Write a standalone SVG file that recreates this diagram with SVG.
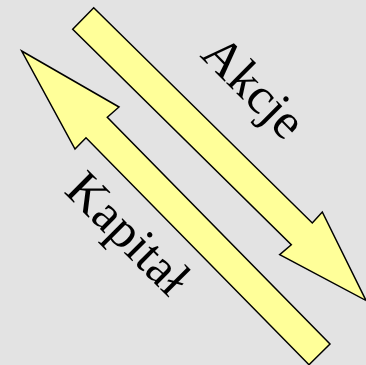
<svg xmlns="http://www.w3.org/2000/svg" width="366" height="365" viewBox="0 0 366 365">
<style>
.arrow{fill:#ffff99;stroke:#000;stroke-width:1.5;stroke-linejoin:miter}
.lbl{font-family:"Liberation Serif","Times New Roman",serif;font-size:51px;fill:#000}
</style>
<rect width="366" height="365" fill="#e3e3e3"/>
<g id="connectors">
<g id="akcje-arrow">
<polygon class="arrow" points="93.7,7.7 312.3,223 322.3,212 366,300.5 279.7,254.7 291.3,244.7 72.7,29.3"/>
</g>
<g id="kapital-arrow">
<polygon class="arrow" points="21.7,51 119,107 107.3,117.3 330,344 309,364.7 86,137.7 75,149"/>
</g>
</g>
<g id="label-akcje"><text class="lbl" transform="translate(199,56) rotate(45)">Akcje</text></g>
<g id="label-kapital"><text class="lbl" transform="translate(63,192) rotate(45)">Kapitał</text></g>
</svg>
